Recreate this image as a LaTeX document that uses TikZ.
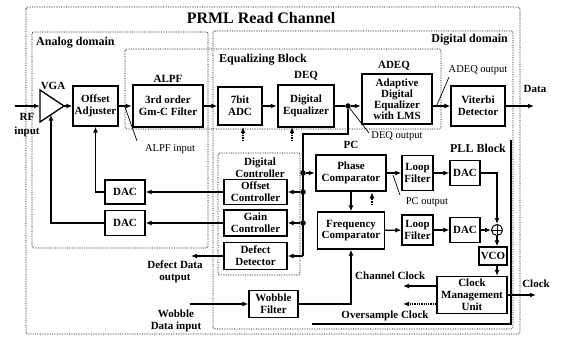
\documentclass[tikz,border=0pt]{standalone}
\usepackage{fontspec}
\setmainfont{Liberation Serif}
\usetikzlibrary{arrows.meta,calc}
\begin{document}
\begin{tikzpicture}[x=1pt,y=-1pt,
  font=\fontsize{11}{11.8}\selectfont\bfseries,
  box/.style={draw,line width=1.3pt,align=center,inner sep=0pt,fill=white},
  tbox/.style={box,line width=2.5pt},
  lbl/.style={inner sep=0pt,align=center},
  nlbl/.style={lbl,font=\fontsize{10.5}{11.5}\selectfont},
  rlbl/.style={lbl,font=\fontsize{12}{13}\selectfont\bfseries},
  con/.style={line width=1.3pt},
  thinline/.style={line width=0.7pt},
  arr/.style={con,-{Latex[length=6pt,width=5pt]}},
  darr/.style={con,densely dotted,-{Latex[length=6pt,width=5pt]}},
  region/.style={densely dotted,line width=0.7pt,rounded corners=2pt},
  dot/.style={circle,fill,inner sep=0pt,minimum size=5.5pt},
  sumc/.style={circle,draw,line width=1pt,minimum size=11pt,inner sep=0pt,fill=white,
    path picture={\draw[line width=0.8pt] (path picture bounding box.north) -- (path picture bounding box.south)
      (path picture bounding box.west) -- (path picture bounding box.east);}},
]
\useasboundingbox (0,0) rectangle (563,337);

% regions
\draw[region] (26,7) rectangle (520,334);
\draw[region] (32,32) rectangle (208,248);
\draw[region] (213,31) rectangle (513,329);
\draw[region] (125,49) rectangle (441,129);
\draw[region] (218,153) rectangle (300,275);
\draw[line width=2pt] (312,324) -- (511,324) -- (511,140);

% region labels
\node[lbl,font=\fontsize{16}{18}\selectfont\bfseries] (title) at (261,18) {PRML Read Channel};
\node[rlbl,anchor=west] (lana) at (36,43) {Analog domain};
\node[rlbl,anchor=east] (ldig) at (508,40) {Digital domain};
\node[rlbl,anchor=west] (leq) at (219,60) {Equalizing Block};
\node[rlbl] (lpll) at (478,148) {PLL Block};

% VGA
\coordinate (vgain) at (40,106);
\coordinate (vgaout) at (64,106);
\coordinate (vgabot) at (51,114.7);
\draw[con] (40,90) -- (vgaout) -- (40,122) -- cycle;
\node[lbl] (lvga) at (53,86) {VGA};

% main chain boxes
\node[box,minimum width=45,minimum height=40] (oadj) at (95.5,106) {Offset\\Adjuster};
\node[tbox,minimum width=70,minimum height=42] (alpf) at (168,106) {3rd order\\Gm-C Filter};
\node[lbl] (lalpf) at (168,79) {ALPF};
\node[box,minimum width=44,minimum height=38] (adc) at (240,106) {7bit\\ADC};
\node[tbox,minimum width=56,minimum height=42] (deq) at (306,106) {Digital\\Equalizer};
\node[lbl] (ldeq) at (306,76) {DEQ};
\node[tbox,minimum width=70,minimum height=50,font=\fontsize{11}{11}\selectfont\bfseries] (adeq) at (397,99) {Adaptive\\Digital\\Equalizer\\with LMS};
\node[lbl] (ladeq) at (394,66) {ADEQ};
\node[box,minimum width=54,minimum height=40] (vit) at (478,106) {Viterbi\\Detector};

% RF input
\coordinate (rfin) at (15,106);
\node[lbl,font=\fontsize{11}{13.5}\selectfont\bfseries] (lrf) at (27,125) {RF\\input};
\draw[arr] (rfin) -- (vgain);
\draw[arr] (vgaout) -- (oadj.west);
\draw[arr] (oadj) -- (alpf);
\draw[arr] (alpf) -- (adc);
\draw[arr] (adc) -- (deq);
\node[dot] (jn) at (348,106) {};
\draw[con] (deq.east) -- (jn);
\draw[arr] (jn) -- (jn -| adeq.west);
\draw[arr] (adeq.east |- vit.west) -- (vit.west);
\coordinate (dataout) at (534,106);
\draw[arr] (vit.east) -- (dataout);
\node[lbl] (ldata) at (535,89) {Data};

% annotation lines
\coordinate (ai1) at (125,107);
\coordinate (ai2) at (137,141);
\draw[thinline] (ai1) -- (ai2);
\node[nlbl] (lalpfin) at (170,149) {ALPF input};
\coordinate (ao1) at (437,105);
\coordinate (ao2) at (449,77);
\draw[thinline] (ao1) -- (ao2);
\node[nlbl] (ladeqout) at (478,70) {ADEQ output};
\coordinate (do2) at (369,133);
\draw[thinline] (jn) -- (do2);
\node[nlbl] (ldeqout) at (397,136) {DEQ output};

% dotted up arrows into ADC and DEQ
\coordinate (adcq) at (243,141);
\draw[darr] (adcq) -- (243,127);
\coordinate (deqq) at (292,141);
\draw[darr] (deqq) -- (292,127);

% digital controller
\node[lbl] (ldc) at (260,167.5) {Digital\\Controller};
\node[box,minimum width=63,minimum height=25] (offc) at (255.5,192) {Offset\\Controller};
\node[box,minimum width=63,minimum height=26] (gainc) at (255.5,223) {Gain\\Controller};
\node[box,minimum width=63,minimum height=27] (defd) at (255.5,256) {Defect\\Detector};

\node[box,minimum width=40,minimum height=24] (dac1) at (125,192) {DAC};
\node[box,minimum width=40,minimum height=25] (dac2) at (125,223) {DAC};

\coordinate (c1) at (348,134);
\coordinate (c2) at (303,134);
\coordinate (c3) at (303,256);
\node[dot] (j1) at (303,173) {};
\node[dot] (j2) at (303,192) {};
\node[dot] (j3) at (303,223) {};
\draw[con] (jn) -- (c1) -- (c2) -- (c3);
\draw[arr] (c3) -- (defd.east);
\draw[arr] (j2) -- (offc.east);
\draw[arr] (j3) -- (gainc.east);
\draw[arr] (offc.west) -- (dac1.east);
\draw[arr] (gainc.west) -- (dac2.east);
\coordinate (d1c) at (95.5,192);
\draw[arr] (dac1.west) -- (d1c) -- (oadj.south);
\coordinate (d2c) at (51,223);
\draw[arr] (dac2.west) -- (d2c) -- (vgabot);

\coordinate (defout) at (191,256);
\draw[arr] (defd.west) -- (defout);
\node[lbl] (ldefout) at (175,272) {Defect Data\\output};

% wobble
\node[box,minimum width=49,minimum height=27] (wob) at (273.5,304) {Wobble\\Filter};
\coordinate (wobin) at (190,304);
\draw[arr] (wobin) -- (wob.west);
\node[lbl] (lwob) at (176,321) {Wobble\\Data input};

% PLL
\node[tbox,minimum width=70,minimum height=36] (phc) at (351,173) {Phase\\Comparator};
\node[lbl] (lpc) at (351,145) {PC};
\draw[arr] (j1) -- (phc.west);
\node[box,minimum width=67,minimum height=37] (frc) at (351,230.5) {Frequency\\Comparator};
\draw[arr] (phc.south) -- (frc.north);
\coordinate (pcd) at (372,205);
\draw[darr] (pcd) -- (pcd |- phc.south);
\draw[arr] (wob.east) -| (frc.south);
\node[lbl,anchor=west] (lchclk) at (355,276) {Channel Clock};

\node[box,minimum width=31,minimum height=35] (lf1) at (417.5,173) {Loop\\Filter};
\node[box,minimum width=30,minimum height=25] (pdac1) at (465,173) {DAC};
\node[box,minimum width=31,minimum height=30] (lf2) at (417.5,230) {Loop\\Filter};
\node[box,minimum width=30,minimum height=25] (pdac2) at (465,230) {DAC};
\node[sumc] (sum) at (497,230) {};
\node[box,minimum width=28,minimum height=18] (vco) at (493,256) {VCO};
\node[box,minimum width=70,minimum height=37] (cmu) at (472,295) {Clock\\Management\\Unit};

\draw[arr] (phc) -- (lf1);
\draw[arr] (lf1) -- (pdac1);
\draw[arr] (pdac1.east) -- (pdac1.east -| sum) -- (sum.north);
\draw[arr] (frc) -- (lf2);
\draw[arr] (lf2) -- (pdac2);
\draw[arr] (pdac2) -- (sum);
\draw[arr] (sum.south) -- (sum.south |- vco.north);
\draw[arr] (vco.south -| sum) -- (sum |- cmu.north);

\coordinate (po1) at (393,175);
\coordinate (po2) at (400,195);
\draw[thinline] (po1) -- (po2);
\node[nlbl] (lpcout) at (427,202) {PC output};

\coordinate (chclk) at (403,286);
\draw[arr] (chclk -| cmu.west) -- (chclk);
\coordinate (osclk) at (403,304);
\draw[darr] (osclk -| cmu.west) -- (osclk);
\node[lbl] (losclk) at (385,316) {Oversample Clock};
\coordinate (clkout) at (536,295);
\draw[arr] (cmu.east) -- (clkout);
\node[lbl] (lclk) at (536,284) {Clock};
\end{tikzpicture}
\end{document}
